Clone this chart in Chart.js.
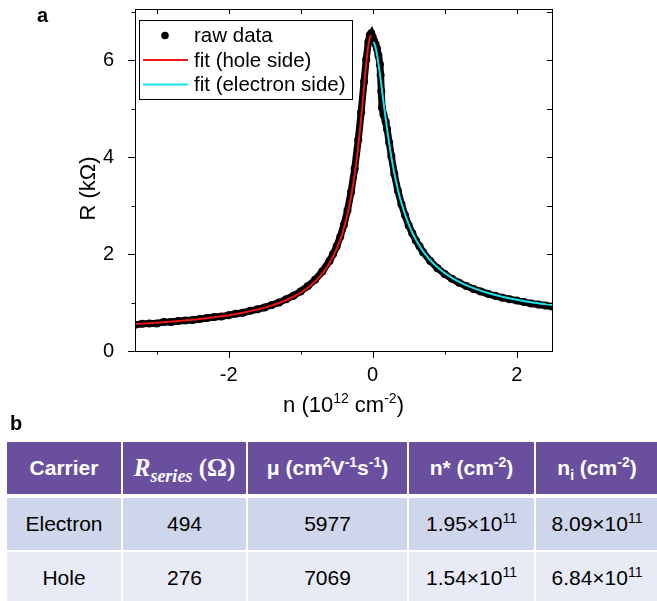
<!DOCTYPE html>
<html>
<head>
<meta charset="utf-8">
<script src="https://cdn.jsdelivr.net/npm/chart.js@4.4.0/dist/chart.umd.min.js"></script>
<style>
  body { margin:0; background:#fff; width:657px; height:601px; position:relative; overflow:hidden; font-family:"Liberation Sans", Arial, sans-serif; }
  #c { position:absolute; left:0; top:0; }
  .panel { position:absolute; font-weight:bold; font-size:20px; line-height:20px; color:#000; }
  table { position:absolute; left:5px; top:440px; border-collapse:separate; border-spacing:2px; table-layout:fixed; width:655px; font-size:21px; }
  td, th { height:52px; padding:0; text-align:center; vertical-align:middle; white-space:nowrap; }
  th { background:#6a4f9f; color:#fff; font-weight:bold; }
  tr.r1 td { background:#cfd5ea; border-top:2px solid #fff; }
  tr.r2 td { background:#e8ebf5; }
  sup { font-size:14px; vertical-align:8px; line-height:0; }
  sub { font-size:14px; vertical-align:-5px; line-height:0; }
  .math { font-family:"Liberation Serif", "DejaVu Serif", serif; font-weight:bold; font-size:25px; }
  .math sub { font-size:18px; vertical-align:-6px; }
</style>
</head>
<body>
<canvas id="c" width="657" height="425"></canvas>
<div class="panel" style="left:37px;top:5px">a</div>
<div class="panel" style="left:10px;top:413px">b</div>
<table id="tbl">
  <colgroup>
    <col style="width:114px"><col style="width:123px"><col style="width:159px"><col style="width:125px"><col style="width:122px">
  </colgroup>
  <thead>
    <tr>
      <th>Carrier</th>
      <th><span class="math"><i>R</i><sub><i>series</i></sub> (Ω)</span></th>
      <th>μ (cm<sup>2</sup>V<sup>-1</sup>s<sup>-1</sup>)</th>
      <th>n* (cm<sup>-2</sup>)</th>
      <th>n<sub>i</sub> (cm<sup>-2</sup>)</th>
    </tr>
  </thead>
  <tbody id="rows"></tbody>
</table>
<script>
// raw data, n in 1e12 cm^-2, R in kOhm
const rawN = [-3.3, -3.2, -3.1, -3.0, -2.9, -2.8, -2.7, -2.6, -2.5, -2.4, -2.3, -2.2, -2.1, -2.0,
  -1.9, -1.8, -1.7, -1.6, -1.5, -1.4, -1.3, -1.2, -1.1, -1.0, -0.9, -0.8, -0.7, -0.6, -0.55,
  -0.5, -0.45, -0.4, -0.35, -0.3, -0.25, -0.2, -0.16, -0.12, -0.09, -0.06, -0.04, -0.02,
  0.0, 0.02, 0.04, 0.06, 0.08, 0.10, 0.11, 0.12, 0.13, 0.15, 0.18, 0.2, 0.23, 0.26, 0.3,
  0.35, 0.4, 0.45, 0.5, 0.55, 0.6, 0.65, 0.7, 0.8, 0.9, 1.0, 1.1, 1.2, 1.3, 1.4, 1.5, 1.6,
  1.7, 1.8, 1.9, 2.0, 2.1, 2.2, 2.3, 2.4, 2.49];
const rawR = [0.54, 0.56, 0.57, 0.57, 0.60, 0.60, 0.62, 0.63, 0.64, 0.66, 0.68, 0.70, 0.71, 0.74,
  0.77, 0.79, 0.83, 0.86, 0.90, 0.95, 1.00, 1.07, 1.14, 1.23, 1.34, 1.47, 1.64, 1.86, 2.00,
  2.16, 2.36, 2.60, 2.90, 3.28, 3.76, 4.36, 4.93, 5.56, 6.02, 6.38, 6.52, 6.56,
  6.48, 6.40, 6.33, 6.24, 6.10, 5.92, 5.70, 5.36, 5.02, 4.88, 4.74, 4.58, 4.30, 4.02, 3.66,
  3.31, 3.03, 2.80, 2.59, 2.43, 2.28, 2.16, 2.04, 1.86, 1.71, 1.59, 1.49, 1.41, 1.34, 1.28, 1.23, 1.18,
  1.14, 1.10, 1.07, 1.04, 1.01, 0.98, 0.96, 0.94, 0.92];

// fit, hole side
const holeN = [-3.3, -3.0, -2.7, -2.4, -2.1, -1.8, -1.5, -1.3, -1.1, -0.9, -0.8, -0.7, -0.6,
  -0.5, -0.45, -0.4, -0.35, -0.3, -0.25, -0.2, -0.16, -0.12, -0.09, -0.06, -0.04, -0.02];
const holeR = [0.556, 0.584, 0.619, 0.662, 0.717, 0.791, 0.895, 0.990, 1.120, 1.307, 1.435, 1.598, 1.813,
  2.108, 2.300, 2.533, 2.822, 3.184, 3.645, 4.231, 4.804, 5.445, 5.917, 6.305, 6.463, 6.52];

// fit, electron side
const elecN = [0.01, 0.03, 0.05, 0.08, 0.11, 0.14, 0.17, 0.2, 0.25, 0.3, 0.35, 0.4, 0.5, 0.6,
  0.7, 0.8, 0.9, 1.0, 1.2, 1.4, 1.6, 1.8, 2.0, 2.2, 2.49];
const elecR = [6.382, 6.320, 6.200, 5.938, 5.613, 5.262, 4.913, 4.583, 4.091, 3.678, 3.335, 3.051, 2.612, 2.295,
  2.057, 1.873, 1.727, 1.609, 1.428, 1.297, 1.198, 1.121, 1.059, 1.008, 0.948];

const xMajor = [-2, 0, 2];
const yMajor = [0, 2, 4, 6];

// table b
const carriers = ["Electron", "Hole"];
const rSeries = [494, 276];
const mobility = [5977, 7069];
const nStar = ["1.95", "1.54"];
const nI = ["8.09", "6.84"];
const expo = 11;

let rows = document.getElementById("rows");
carriers.forEach((c, i) => {
  let tr = document.createElement("tr");
  tr.className = i == 0 ? "r1" : "r2";
  tr.innerHTML = "<td>" + c + "</td><td>" + rSeries[i] + "</td><td>" + mobility[i] + "</td>" +
    "<td>" + nStar[i] + "×10<sup>" + expo + "</sup></td>" +
    "<td>" + nI[i] + "×10<sup>" + expo + "</sup></td>";
  rows.appendChild(tr);
});

const FONT = '"Liberation Sans", Arial, sans-serif';

function pts(xs, ys) {
  return xs.map((x, i) => ({ x: x, y: ys[i] }));
}

// fixed axis sizes so the plot box lands where the reference has it
function fixX(s) {
  s.height = 74;
  s.paddingLeft = s.paddingRight = s.paddingTop = s.paddingBottom = 0;
}
function fixY(s) {
  s.width = 135;
  s.paddingLeft = s.paddingRight = s.paddingTop = s.paddingBottom = 0;
}

// frame, ticks, legend box and axis titles
const decor = {
  id: "decor",
  afterDraw(chart) {
    let ctx = chart.ctx;
    let a = chart.chartArea;
    let xs = chart.scales.x, ys = chart.scales.y;
    ctx.save();
    ctx.strokeStyle = "#000";
    ctx.lineWidth = 1;
    ctx.strokeRect(Math.round(a.left) + 0.5, Math.round(a.top) + 0.5,
      Math.round(a.right) - Math.round(a.left), Math.round(a.bottom) - Math.round(a.top));

    ctx.beginPath();
    for (let v = -3; v <= 2; v++) {
      let px = Math.round(xs.getPixelForValue(v)) + 0.5;
      let len = xMajor.includes(v) ? 7 : 3.5;
      ctx.moveTo(px, a.bottom); ctx.lineTo(px, a.bottom + len);
      ctx.moveTo(px, a.top); ctx.lineTo(px, a.top + 5);
    }
    for (let v = 0; v <= 7; v++) {
      let py = Math.round(ys.getPixelForValue(v)) + 0.5;
      let len = yMajor.includes(v) ? 7 : 3.5;
      ctx.moveTo(a.left, py); ctx.lineTo(a.left - len, py);
      ctx.moveTo(a.right, py); ctx.lineTo(a.right - 5, py);
    }
    ctx.stroke();

    // legend
    let bx = a.left + 4, by = a.top + 10.5;
    ctx.fillStyle = "#fff";
    ctx.fillRect(bx, by, 213, 79);
    ctx.strokeRect(Math.round(bx) + 0.5, Math.round(by) + 0.5, 213, 79);
    ctx.font = "20.5px " + FONT;
    ctx.textBaseline = "middle";
    ctx.textAlign = "left";
    chart.data.datasets.forEach((ds, i) => {
      let y = by + 16 + i * 24.5;
      if (ds.showMarker) {
        ctx.fillStyle = ds.pointBackgroundColor;
        ctx.beginPath();
        ctx.arc(bx + 26, y, 3.8, 0, Math.PI * 2);
        ctx.fill();
      } else {
        ctx.strokeStyle = ds.borderColor;
        ctx.lineWidth = 2;
        ctx.beginPath();
        ctx.moveTo(bx + 4, y); ctx.lineTo(bx + 49, y);
        ctx.stroke();
      }
      ctx.fillStyle = "#000";
      ctx.fillText(ds.label, bx + 55, y + 1);
    });

    // x title with superscripts
    let parts = [["n (10", 0], ["12", 1], [" cm", 0], ["-2", 1], [")", 0]];
    let total = 0;
    parts.forEach(p => {
      ctx.font = (p[1] ? "14px " : "22px ") + FONT;
      p.push(ctx.measureText(p[0]).width);
      total += p[2];
    });
    let x = (a.left + a.right) / 2 - total / 2;
    ctx.textBaseline = "alphabetic";
    parts.forEach(p => {
      ctx.font = (p[1] ? "14px " : "22px ") + FONT;
      ctx.fillText(p[0], x, p[1] ? 403 : 412);
      x += p[2];
    });

    // y title
    ctx.translate(88.5, 188.5);
    ctx.rotate(-Math.PI / 2);
    ctx.font = "22px " + FONT;
    ctx.textAlign = "center";
    ctx.textBaseline = "middle";
    ctx.fillText("R (kΩ)", 0, 0);
    ctx.restore();
  }
};

let graph = document.getElementById("c");
let myChart = new Chart(graph, {
  type: "scatter",
  plugins: [decor],
  data: {
    datasets: [
      {
        label: "raw data",
        data: pts(rawN, rawR),
        showLine: true,
        showMarker: true,
        borderColor: "#000",
        borderWidth: 7,
        pointRadius: 4,
        pointBorderWidth: 0,
        pointBackgroundColor: "#000",
        order: 5,
      },
      {
        label: "fit (hole side)",
        data: pts(holeN, holeR),
        showLine: true,
        borderColor: "#ee1414",
        borderWidth: 2,
        pointRadius: 0,
        cubicInterpolationMode: "monotone",
        order: 1,
      },
      {
        label: "fit (electron side)",
        data: pts(elecN, elecR),
        showLine: true,
        borderColor: "#14e4ee",
        borderWidth: 2,
        pointRadius: 0,
        cubicInterpolationMode: "monotone",
        order: 1,
      },
    ],
  },
  options: {
    responsive: false,
    animation: false,
    layout: { padding: { left: 0, top: 9, right: 105, bottom: 0 } },
    plugins: { legend: { display: false }, tooltip: { enabled: false } },
    scales: {
      x: {
        type: "linear",
        min: -3.3,
        max: 2.49,
        grid: { display: false },
        border: { display: false },
        afterFit: fixX,
        afterBuildTicks: (s) => { s.ticks = xMajor.map((v) => ({ value: v })); },
        ticks: {
          autoSkip: false,
          maxRotation: 0,
          padding: 4,
          color: "#000",
          font: { size: 20, family: FONT },
        },
      },
      y: {
        min: 0,
        max: 7.06,
        grid: { display: false },
        border: { display: false },
        afterFit: fixY,
        afterBuildTicks: (s) => { s.ticks = yMajor.map((v) => ({ value: v })); },
        ticks: {
          autoSkip: false,
          padding: 13,
          color: "#000",
          font: { size: 20, family: FONT },
        },
      },
    },
  },
});
</script>
</body>
</html>
